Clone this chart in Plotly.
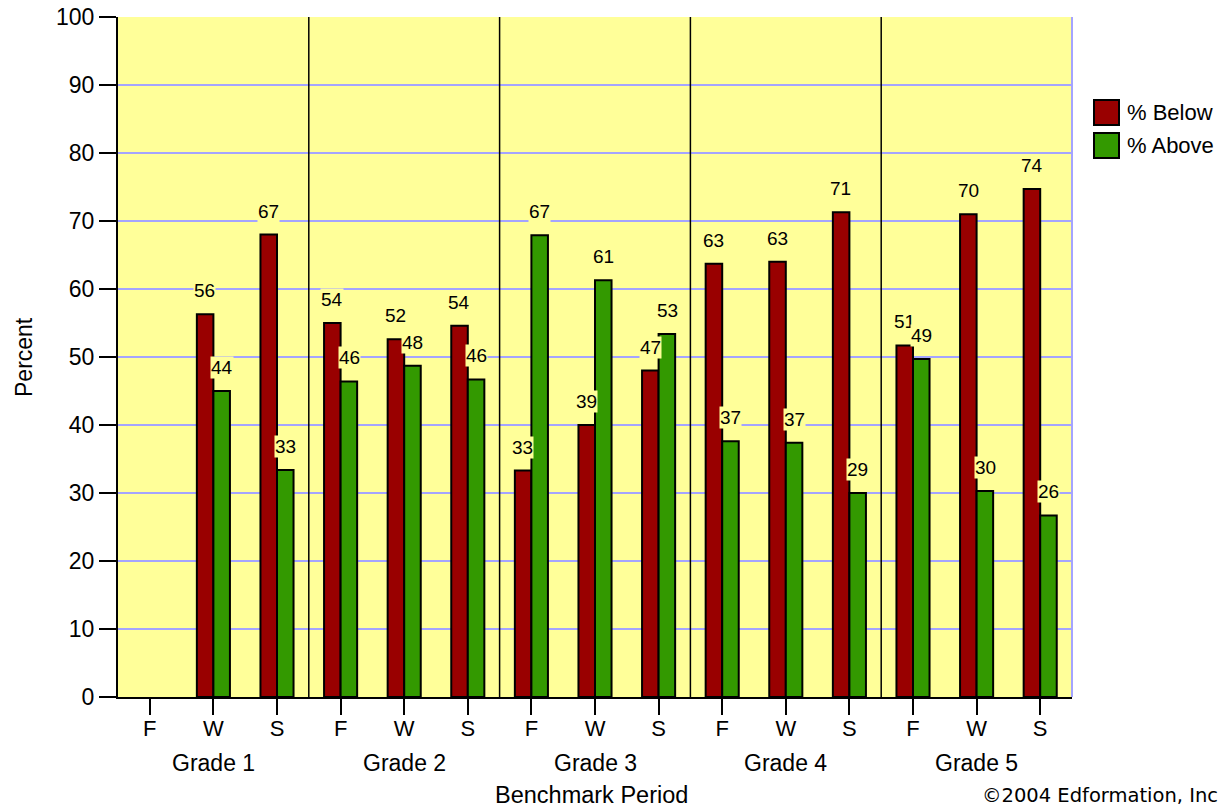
import plotly.graph_objects as go

grades = ["Grade 1", "Grade 2", "Grade 3", "Grade 4", "Grade 5"]
periods = ["F", "W", "S"]

below = [None, 56.3, 68.0, 55.0, 52.6, 54.6, 33.3, 40.0, 48.0, 63.7, 64.0, 71.3, 51.7, 71.0, 74.7]
above = [None, 45.0, 33.4, 46.4, 48.7, 46.7, 67.9, 61.3, 53.4, 37.6, 37.4, 30.0, 49.7, 30.3, 26.7]
labels_below = [None, 56, 67, 54, 52, 54, 33, 39, 47, 63, 63, 71, 51, 70, 74]
labels_above = [None, 44, 33, 46, 48, 46, 67, 61, 53, 37, 37, 29, 49, 30, 26]
series_names = ["% Below", "% Above"]

yticks = list(range(0, 101, 10))

cats = [f"{g} {p}" for g in grades for p in periods]
tick_text = [p for g in grades for p in periods]

RED = "#990000"
GREEN = "#339900"
BG = "#FFFF99"
GRID = "#A4A4FF"
FONT = "Liberation Sans, Arial, sans-serif"

# page offset (body margin) compensation
OFF = 8
W, H = 1222, 807
# target plot area on screen: x 118..1072, y 17..697
L = 118 - OFF
T = 17 - OFF
R = W - (1072 - OFF)
B = H - (697 - OFF)
pw, ph = W - L - R, H - T - B


def sx(px):
    return (px - OFF - L) / pw


def sy(py):
    return (H - B - (py - OFF)) / ph


fig = go.Figure()
fig.add_trace(go.Bar(name=series_names[0], x=cats, y=below, marker=dict(color=RED, line=dict(color="black", width=2))))
fig.add_trace(go.Bar(name=series_names[1], x=cats, y=above, marker=dict(color=GREEN, line=dict(color="black", width=2))))

annotations = []
for vals, labs, dx in ((below, labels_below, -8.5), (above, labels_above, 8.5)):
    for c, v, lab in zip(cats, vals, labs):
        if v is None:
            continue
        annotations.append(dict(x=c, y=v, xref="x", yref="y", text=str(lab), showarrow=False,
                                xshift=dx, yanchor="bottom", yshift=12, bgcolor=BG, borderpad=0,
                                font=dict(family=FONT, size=19, color="black")))

for gi, g in enumerate(grades):
    annotations.append(dict(x=cats[gi * 3 + 1], y=0, xref="x", yref="paper", text=g, showarrow=False,
                            yanchor="middle", yshift=-66, font=dict(family=FONT, size=23, color="black")))

annotations.append(dict(x=0.5, y=0, xref="paper", yref="paper", text="Benchmark Period", showarrow=False,
                        xshift=-4, yanchor="middle", yshift=-98, font=dict(family=FONT, size=23.5, color="black")))
annotations.append(dict(x=0, y=0.5, xref="paper", yref="paper", text="Percent", showarrow=False,
                        textangle=-90, xshift=-109, font=dict(family=FONT, size=23, color="black")))
annotations.append(dict(x=sx(980), y=0, xref="paper", yref="paper", text="©2004 Edformation, Inc",
                        showarrow=False, xanchor="left", yanchor="middle", yshift=-98,
                        font=dict(family="DejaVu Sans", size=19.5, color="black")))

# legend drawn as boxes + text
legend_colors = [RED, GREEN]
shapes = []
for i, (nm, col) in enumerate(zip(series_names, legend_colors)):
    y_top = 100 + i * 33
    shapes.append(dict(type="rect", xref="paper", yref="paper",
                       x0=sx(1094), x1=sx(1119),
                       y0=sy(y_top + 25), y1=sy(y_top),
                       fillcolor=col, line=dict(color="black", width=2)))
    annotations.append(dict(x=sx(1125), y=sy(y_top + 12.5), xref="paper", yref="paper",
                            text=nm, showarrow=False, xanchor="left", yanchor="middle",
                            font=dict(family=FONT, size=22, color="black")))

for gi in range(1, len(grades)):
    shapes.append(dict(type="line", xref="x", yref="y", x0=gi * 3 - 0.5, x1=gi * 3 - 0.5, y0=0, y1=100,
                       line=dict(color="black", width=1.5)))
shapes.append(dict(type="line", xref="paper", yref="paper", x0=1, x1=1, y0=0, y1=1,
                   line=dict(color=GRID, width=2)))

fig.update_layout(
    width=W, height=H,
    margin=dict(l=L, r=R, t=T, b=B, autoexpand=False),
    paper_bgcolor="white", plot_bgcolor=BG,
    barmode="group", bargap=0.48, bargroupgap=0,
    font=dict(family=FONT, size=23, color="black"),
    showlegend=False,
    annotations=annotations,
    shapes=shapes,
    xaxis=dict(type="category", categoryorder="array", categoryarray=cats, range=[-0.5, len(cats) - 0.5],
               tickvals=cats, ticktext=tick_text, ticks="outside", ticklen=16, tickwidth=1.5, tickcolor="black",
               showline=True, linecolor="black", linewidth=2, showgrid=False, zeroline=False,
               automargin=False, ticklabelstandoff=-5,
               tickfont=dict(family=FONT, size=22)),
    yaxis=dict(range=[0, 100], tickvals=yticks, ticks="outside", ticklen=17, tickwidth=1.5, tickcolor="black",
               showline=True, linecolor="black", linewidth=2, showgrid=True, gridcolor=GRID, gridwidth=1.5,
               zeroline=False, automargin=False, ticklabeloverflow="allow", tickfont=dict(family=FONT, size=23)),
)

fig.write_html("out.html")
